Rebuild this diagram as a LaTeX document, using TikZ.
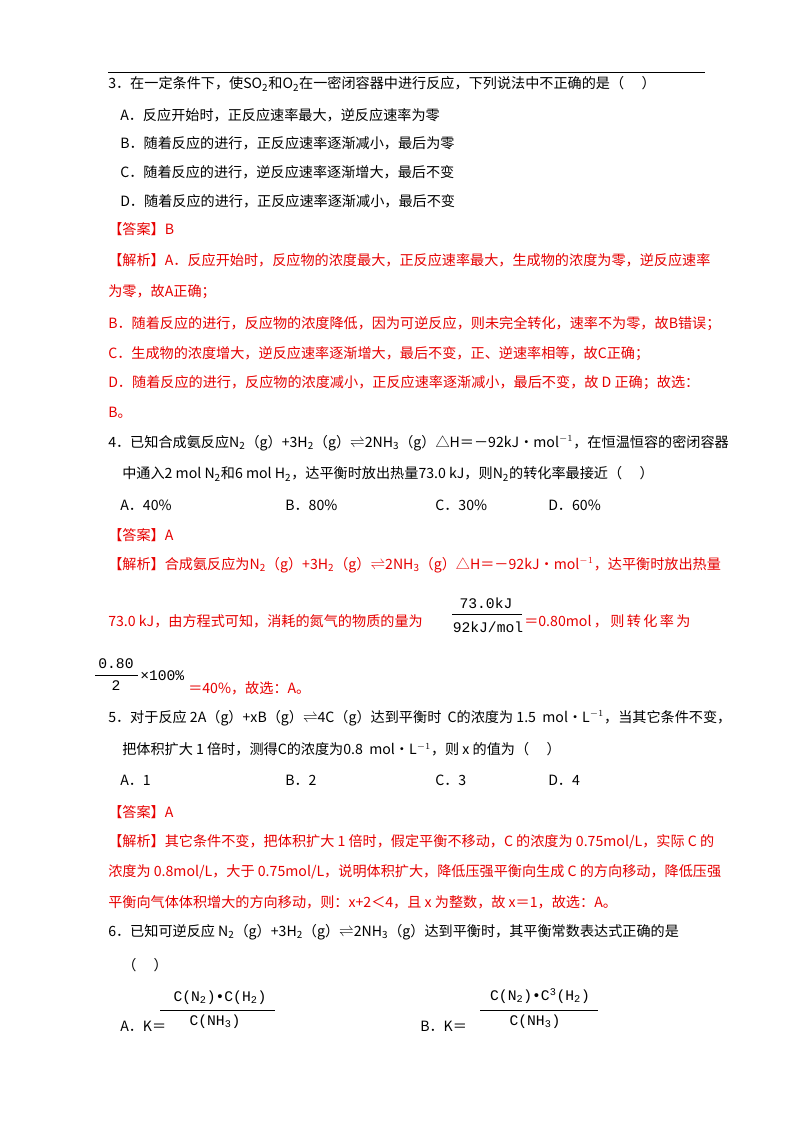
\documentclass[tikz,border=0pt]{standalone}
\usepackage{fontspec}
\setmainfont{Noto Sans CJK SC}
\newfontfamily\mono{Liberation Mono}
\usepackage{xcolor}
\definecolor{rd}{RGB}{230,0,0}
\newcommand\dn[1]{\textsubscript{#1}}
\newcommand\eqarr{$\rightleftharpoons$}
\newcommand\fs{\fontsize{10.6}{13}\selectfont}
\begin{document}
\begin{tikzpicture}[x=0.75pt,y=0.75pt,
 t/.style={anchor=west,inner sep=0,font=\fs},
 r/.style={t,text=rd},
 m/.style={anchor=center,inner sep=0,font=\mono\fontsize{11}{13}\selectfont},
 mr/.style={m,text=rd}]
\useasboundingbox (0,0) rectangle (800,-1132);
\draw[line width=0.6pt] (108,-72) -- (705,-72);
\node[t] (q3) at (108,-84) {3．在一定条件下，使SO\dn{2}和O\dn{2}在一密闭容器中进行反应，下列说法中不正确的是（\quad\ ）};
\node[t] (q3a) at (120,-115) {A．反应开始时，正反应速率最大，逆反应速率为零};
\node[t] (q3b) at (120,-143) {B．随着反应的进行，正反应速率逐渐减小，最后为零};
\node[t] (q3c) at (120,-172) {C．随着反应的进行，逆反应速率逐渐增大，最后不变};
\node[t] (q3d) at (120,-201) {D．随着反应的进行，正反应速率逐渐减小，最后不变};
\node[r] (a3) at (108,-229) {【答案】B};
\node[r] (e3a) at (108,-260) {【解析】A．反应开始时，反应物的浓度最大，正反应速率最大，生成物的浓度为零，逆反应速率};
\node[r] (e3b) at (108,-292) {为零，故A正确；};
\node[r] (e3c) at (108,-324) {B．随着反应的进行，反应物的浓度降低，因为可逆反应，则未完全转化，速率不为零，故B错误；};
\node[r] (e3d) at (108,-354) {C．生成物的浓度增大，逆反应速率逐渐增大，最后不变，正、逆速率相等，故C正确；};
\node[r] (e3e) at (108,-383) {D．随着反应的进行，反应物的浓度减小，正反应速率逐渐减小，最后不变，故 D 正确；故选：};
\node[r] (e3f) at (108,-413) {B。};
\node[t] (q4) at (108,-443) {4．已知合成氨反应N\dn{2}（g）+3H\dn{2}（g）\eqarr2NH\dn{3}（g）△H＝－92kJ•mol$^{-1}$，在恒温恒容的密闭容器};
\node[t] (q4b) at (122,-474) {中通入2 mol N\dn{2}和6 mol H\dn{2}，达平衡时放出热量73.0 kJ，则N\dn{2}的转化率最接近（\quad\ ）};
\node[t] (q4o1) at (120,-505) {A．40\%};
\node[t] (q4o2) at (285,-505) {B．80\%};
\node[t] (q4o3) at (435,-505) {C．30\%};
\node[t] (q4o4) at (548,-505) {D．60\%};
\node[r] (a4) at (108,-535) {【答案】A};
\node[r] (e4a) at (108,-565) {【解析】合成氨反应为N\dn{2}（g）+3H\dn{2}（g）\eqarr2NH\dn{3}（g）△H＝－92kJ•mol$^{-1}$，达平衡时放出热量};
\node[r] (e4b) at (108,-621) {73.0 kJ，由方程式可知，消耗的氮气的物质的量为};
\node[m] (f1n) at (486,-603) {73.0kJ};
\node[m] (f1d) at (488,-627) {92kJ/mol};
\draw (452,-614) -- (522,-614);
\node[r] (e4c) at (524,-621) {＝0.80mol\,，\,则\,转\,化\,率\,为};
\node[m] (f2n) at (116,-664) {0.80};
\node[m] (f2d) at (116,-686) {2};
\draw (95,-675) -- (138,-675);
\node[m,anchor=west] (f2x) at (140,-676) {×100\%};
\node[r] (e4d) at (188,-688) {＝40\%，故选：A。};
\node[t] (q5) at (108,-718) {5．对于反应 2A（g）+xB（g）\eqarr4C（g）达到平衡时\ \ C的浓度为 1.5\ \ mol•L$^{-1}$，当其它条件不变，};
\node[t] (q5b) at (122,-749) {把体积扩大 1 倍时，测得C的浓度为0.8\ \ mol•L$^{-1}$，则 x 的值为（\quad\ ）};
\node[t] (q5o1) at (120,-780) {A．1};
\node[t] (q5o2) at (285,-780) {B．2};
\node[t] (q5o3) at (435,-780) {C．3};
\node[t] (q5o4) at (548,-780) {D．4};
\node[r] (a5) at (108,-812) {【答案】A};
\node[r] (e5a) at (108,-842) {【解析】其它条件不变，把体积扩大 1 倍时，假定平衡不移动，C 的浓度为 0.75mol/L，实际 C 的};
\node[r] (e5b) at (108,-872) {浓度为 0.8mol/L，大于 0.75mol/L，说明体积扩大，降低压强平衡向生成 C 的方向移动，降低压强};
\node[r] (e5c) at (108,-902) {平衡向气体体积增大的方向移动，则：x+2＜4，且 x 为整数，故 x＝1，故选：A。};
\node[t] (q6) at (108,-932) {6．已知可逆反应 N\dn{2}（g）+3H\dn{2}（g）\eqarr2NH\dn{3}（g）达到平衡时，其平衡常数表达式正确的是};
\node[t] (q6b) at (122,-965) {（\quad\ ）};
\node[m] (fan) at (220,-998) {C(N\dn{2})•C(H\dn{2})};
\node[m] (fad) at (215,-1022) {C(NH\dn{3})};
\draw (160,-1010) -- (275,-1010);
\node[t] (q6a) at (120,-1026) {A．K＝};
\node[m] (fbn) at (540,-996) {C(N\dn{2})•C\textsuperscript{3}(H\dn{2})};
\node[m] (fbd) at (535,-1022) {C(NH\dn{3})};
\draw (480,-1010) -- (598,-1010);
\node[t] (q6bb) at (420,-1026) {B．K＝};
\end{tikzpicture}
\end{document}
